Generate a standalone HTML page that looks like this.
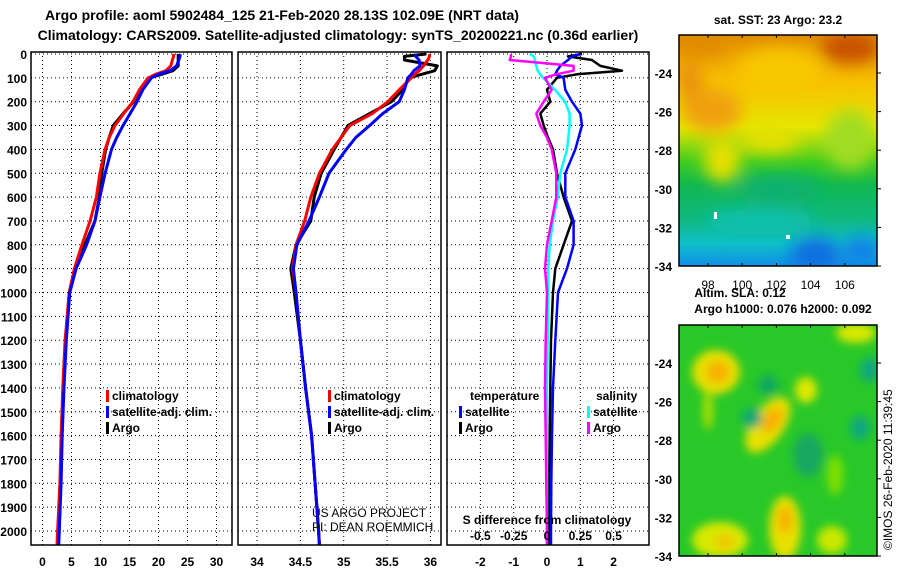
<!DOCTYPE html>
<html><head><meta charset="utf-8"><style>
body{margin:0;background:#fff;width:900px;height:580px;overflow:hidden}
svg text{font-family:"Liberation Sans",Arial,sans-serif;font-weight:bold;fill:#000}
</style></head><body>
<svg id="fig" width="900" height="580" viewBox="0 0 900 580" xmlns="http://www.w3.org/2000/svg">
<defs>
<filter id="blur1" x="-20%" y="-20%" width="140%" height="140%"><feGaussianBlur stdDeviation="8"/></filter>
<filter id="blur2" x="-30%" y="-30%" width="160%" height="160%"><feGaussianBlur stdDeviation="4.5"/></filter>
<clipPath id="m1c"><rect x="679" y="35" width="198" height="231"/></clipPath>
<clipPath id="m2c"><rect x="679" y="325" width="198" height="231"/></clipPath>
<linearGradient id="sstg" x1="0" y1="0" x2="0" y2="1">
<stop offset="0" stop-color="#e08a00"/><stop offset="0.2" stop-color="#f8c000"/><stop offset="0.4" stop-color="#e6e600"/><stop offset="0.55" stop-color="#40cc20"/><stop offset="0.65" stop-color="#10b850"/><stop offset="0.8" stop-color="#10b880"/><stop offset="0.9" stop-color="#10c0c8"/><stop offset="1" stop-color="#1090e8"/>
</linearGradient>
</defs>
<text x="282" y="20" font-size="14" text-anchor="middle">Argo profile: aoml 5902484_125 21-Feb-2020 28.13S 102.09E (NRT data)</text>
<text x="338" y="40" font-size="14" text-anchor="middle">Climatology: CARS2009. Satellite-adjusted climatology: synTS_20200221.nc (0.36d earlier)</text>
<g id="p1"></g>
<g id="p2"></g>
<g id="p3"></g>
<g id="map1" clip-path="url(#m1c)">
<rect x="679" y="35" width="198" height="231" fill="url(#sstg)"/>
<g filter="url(#blur1)">
<ellipse cx="712" cy="110" rx="30" ry="22" fill="#f0a010"/>
<ellipse cx="690" cy="80" rx="12" ry="20" fill="#e89010"/>
<ellipse cx="850" cy="48" rx="30" ry="15" fill="#c85000"/>
<ellipse cx="700" cy="45" rx="25" ry="10" fill="#e08a00"/>
<ellipse cx="780" cy="70" rx="45" ry="22" fill="#f8c800"/>
<ellipse cx="722" cy="160" rx="18" ry="22" fill="#e8e000"/>
<ellipse cx="770" cy="140" rx="30" ry="12" fill="#e8e000"/>
<ellipse cx="850" cy="140" rx="25" ry="30" fill="#a0dc20"/>
<ellipse cx="780" cy="190" rx="40" ry="15" fill="#10b070"/>
<ellipse cx="760" cy="222" rx="55" ry="13" fill="#10c0b0"/>
<ellipse cx="815" cy="255" rx="25" ry="18" fill="#1070e0"/>
<ellipse cx="862" cy="250" rx="18" ry="14" fill="#1080e8"/>
</g>
<rect x="714" y="212" width="3" height="7" fill="#fff"/>
<rect x="786" y="235" width="4" height="4" fill="#fff"/>
</g>
<rect x="679" y="35" width="198" height="231" fill="none" stroke="#000" stroke-width="1.5"/>
<text x="778" y="24" font-size="12" text-anchor="middle">sat. SST: 23 Argo: 23.2</text>
<g id="map2" clip-path="url(#m2c)">
<rect x="679" y="325" width="198" height="231" fill="#28c828"/>
<g filter="url(#blur2)">
<ellipse cx="716" cy="372" rx="24" ry="22" fill="#e8e000"/>
<ellipse cx="718" cy="372" rx="12" ry="11" fill="#f8b000"/>
<ellipse cx="708" cy="410" rx="5" ry="20" fill="#b0e000"/>
<ellipse cx="768" cy="425" rx="16" ry="32" fill="#e8e000" transform="rotate(35 768 425)"/>
<ellipse cx="772" cy="420" rx="9" ry="14" fill="#f8b000" transform="rotate(35 772 420)"/>
<ellipse cx="806" cy="390" rx="11" ry="13" fill="#e0e800"/>
<ellipse cx="785" cy="528" rx="16" ry="32" fill="#e8e000"/>
<ellipse cx="785" cy="520" rx="7" ry="14" fill="#f8b000"/>
<ellipse cx="720" cy="540" rx="28" ry="18" fill="#d8e800"/>
<ellipse cx="725" cy="542" rx="10" ry="8" fill="#f0c800"/>
<ellipse cx="856" cy="333" rx="20" ry="10" fill="#d8e800"/>
<ellipse cx="832" cy="540" rx="15" ry="14" fill="#c8e800"/>
<ellipse cx="835" cy="475" rx="8" ry="20" fill="#80e000"/>
<ellipse cx="752" cy="418" rx="10" ry="10" fill="#10a878"/>
<ellipse cx="768" cy="385" rx="10" ry="10" fill="#10a860"/>
<ellipse cx="808" cy="455" rx="15" ry="22" fill="#18a860"/>
<ellipse cx="870" cy="370" rx="10" ry="12" fill="#10a880"/>
<ellipse cx="860" cy="428" rx="10" ry="12" fill="#10a880"/>
</g>
</g>
<rect x="679" y="325" width="198" height="231" fill="none" stroke="#000" stroke-width="1.5"/>
<text x="740" y="297" font-size="12" text-anchor="middle">Altim. SLA: 0.12</text>
<text x="783" y="313" font-size="12" text-anchor="middle">Argo h1000: 0.076 h2000: 0.092</text>
<text transform="translate(892 550) rotate(-90)" font-size="12" style="font-weight:normal">©IMOS 26-Feb-2020 11:39:45</text>
</svg>
<script>
// ---- data ----
const depths = [0,10,25,50,70,85,100,150,200,250,300,350,400,500,600,700,800,900,1000,1200,1400,1600,1800,2000,2060];
const tempArgo = [23.4,23.4,23.4,23.4,22.5,20.5,18.5,16.8,15.7,13.9,12.2,11.5,10.9,10.2,9.8,9.05,7.3,5.6,4.6,4.0,3.6,3.3,3.1,2.8,2.7];
const tempClim = [22.6,22.6,22.4,22.1,21.3,19.5,18.2,16.7,15.6,14.0,12.5,11.5,10.8,9.9,9.3,8.2,6.8,5.5,4.6,3.9,3.5,3.2,3.0,2.6,2.5];
const tempSat  = [23.7,23.7,23.5,23.1,22.0,20.0,18.8,17.3,16.3,15.1,13.9,12.8,11.9,10.8,9.9,9.05,7.6,5.8,4.7,4.1,3.7,3.4,3.2,2.9,2.8];
const salArgo = [35.95,35.70,35.70,36.08,36.05,35.9,35.76,35.68,35.55,35.30,35.05,34.97,34.89,34.74,34.66,34.62,34.45,34.39,34.43,34.5,34.56,34.63,34.67,34.71,34.72];
const salClim = [35.99,35.99,35.97,35.92,35.87,35.82,35.78,35.64,35.51,35.33,35.07,34.97,34.87,34.72,34.62,34.55,34.45,34.41,34.45,34.5,34.56,34.63,34.67,34.71,34.72];
const salSat  = [35.83,35.83,35.87,35.88,35.81,35.78,35.74,35.70,35.64,35.45,35.30,35.14,35.03,34.83,34.72,34.60,34.46,34.42,34.45,34.5,34.56,34.63,34.67,34.71,34.72];
const tDiffArgo = [1.05,0.63,1.35,1.6,2.25,0.9,0.3,0.0,0.1,-0.2,-0.1,0.03,0.18,0.3,0.5,0.75,0.5,0.25,0.18,0.12,0.1,0.08,0.06,0.05,0.05];
const tDiffSat  = [1.0,0.75,0.63,0.4,0.3,0.25,0.5,0.55,0.75,1.0,1.05,0.95,0.85,0.55,0.55,0.8,0.8,0.6,0.33,0.25,0.18,0.15,0.13,0.12,0.12];
const sDiffSat  = [-0.13,-0.1,-0.09,-0.08,-0.07,-0.05,-0.03,0.06,0.135,0.17,0.17,0.16,0.15,0.1,0.08,0.045,0.02,0.01,0.01,0.005,0,0,0,0,0];
const sDiffArgo = [-0.27,-0.27,-0.28,0.2,0.2,0.07,-0.015,0.035,-0.025,-0.08,-0.05,0,0.035,0.07,0.07,0.035,0,-0.015,0,-0.01,-0.015,-0.01,-0.005,0,0];
const depthTicks = [0,100,200,300,400,500,600,700,800,900,1000,1100,1200,1300,1400,1500,1600,1700,1800,1900,2000];
const tTicks = [0,5,10,15,20,25,30];
const sTicks = [34,34.5,35,35.5,36];
const dTicks = [-2,-1,0,1,2];
const sdLabels = [-0.5,-0.25,0,0.25,0.5];
const latTicks = [-24,-26,-28,-30,-32,-34];
const lonTicks = [98,100,102,104,106];

const NS="http://www.w3.org/2000/svg";
const fig=document.getElementById('fig');
const TOP=52,BOT=545;
function yD(d){return 54+d*0.2385;}
function xT(v){return 42.5+v*5.8;}
function xS(v){return 257+(v-34)*86.7;}
function xD(v){return 547+v*33.3;}
function xSD(v){return 547+v*4*33.3;}
function mk(tag,attrs,parent){const e=document.createElementNS(NS,tag);for(const k in attrs)e.setAttribute(k,attrs[k]);(parent||fig).appendChild(e);return e;}

function frame(g,x0,x1,xs,xticks,fmt,labels){
  depthTicks.forEach(d=>{const l=mk('line',{x1:x0,x2:x1,y1:yD(d),y2:yD(d),stroke:'#000','stroke-dasharray':'1,3','stroke-width':1},g);
    
    });
  xticks.forEach(v=>{const l=mk('line',{x1:xs(v),x2:xs(v),y1:TOP,y2:BOT,stroke:'#000','stroke-dasharray':'1,3','stroke-width':1},g);
    
    
    if(labels){const t=mk('text',{x:xs(v),y:566,'font-size':12,'text-anchor':'middle'},g);t.textContent=fmt(v);
    
    }});
}
function series(g,xs,vals,color,name,w){
  const pts=depths.map((d,i)=>xs(vals[i]).toFixed(1)+','+yD(d).toFixed(1)).join(' ');
  const p=mk('polyline',{points:pts,fill:'none',stroke:color,'stroke-width':w||3,'stroke-linejoin':'round'},g);
  
  
}
function box(g,x0,x1){const r=mk('rect',{x:x0,y:TOP,width:x1-x0,height:BOT-TOP,fill:'none',stroke:'#000','stroke-width':1.5},g);
  
  }
function legend(g,x,y,items){items.forEach((it,i)=>{
  const r=mk('rect',{x:x,y:y+i*16-10,width:3,height:12,fill:it[1]},g);
  
  
  const t=mk('text',{x:x+6,y:y+i*16,'font-size':12},g);t.textContent=it[0];
  
  });}

// panel 1
const p1=document.getElementById('p1');
frame(p1,31,232,xT,tTicks,v=>v,true);
depthTicks.forEach(d=>{const t=mk('text',{x:27,y:yD(d)+5,'font-size':12,'text-anchor':'end'},p1);t.textContent=d;
  
  });
series(p1,xT,tempArgo,'#000','temp-argo-line');
series(p1,xT,tempClim,'#f00','temp-climatology-line');
series(p1,xT,tempSat,'#00f','temp-satellite-line');
box(p1,31,232);
legend(p1,106,400,[['climatology','#f00'],['satellite-adj. clim.','#00f'],['Argo','#000']]);
// panel 2
const p2=document.getElementById('p2');
frame(p2,238,441,xS,sTicks,v=>v,true);
series(p2,xS,salArgo,'#000','sal-argo-line');
series(p2,xS,salClim,'#f00','sal-climatology-line');
series(p2,xS,salSat,'#00f','sal-satellite-line');
box(p2,238,441);
legend(p2,328,400,[['climatology','#f00'],['satellite-adj. clim.','#00f'],['Argo','#000']]);
[['US ARGO PROJECT',517],['PI: DEAN ROEMMICH',531]].forEach(a=>{const t=mk('text',{x:312,y:a[1],'font-size':12,style:'font-weight:normal'},p2);t.textContent=a[0];
  
  });
// panel 3
const p3=document.getElementById('p3');
frame(p3,447,649,xD,dTicks,v=>v,true);
series(p3,xD,tDiffArgo,'#000','tdiff-argo-line',2.5);
series(p3,xD,tDiffSat,'#00f','tdiff-satellite-line',2.5);
series(p3,xSD,sDiffSat,'#0ff','sdiff-satellite-line',2.5);
series(p3,xSD,sDiffArgo,'#f0f','sdiff-argo-line',2.5);
box(p3,447,649);
[['temperature',470,400],['salinity',596,400]].forEach(a=>{const t=mk('text',{x:a[1],y:a[2],'font-size':12},p3);t.textContent=a[0];
  
  });
legend(p3,459,416,[['satellite','#00f'],['Argo','#000']]);
legend(p3,587,416,[['satellite','#0ff'],['Argo','#f0f']]);
const sdt=mk('text',{x:547,y:524,'font-size':12,'text-anchor':'middle'},p3);sdt.textContent='S difference from climatology';


sdLabels.forEach(v=>{const t=mk('text',{x:xSD(v),y:540,'font-size':12,'text-anchor':'middle'},p3);t.textContent=v;
  
  });
// map axes
function latY1(l){return 73+(-24-l)*19.3;}
function latY2(l){return 363+(-24-l)*19.3;}
function lonX(l){return 708+(l-98)*17.1;}
latTicks.forEach(l=>{
  [[latY1,'sst'],[latY2,'sla']].forEach(f=>{
    const y=f[0](l);
    const k=mk('line',{x1:877,x2:881,y1:y,y2:y,stroke:'#000'});
    
    
    const t=mk('text',{x:672,y:y+5,'font-size':12,'text-anchor':'end'});t.textContent=l;
    
    
  });
});
lonTicks.forEach(l=>{
  [35,266,325,556].forEach(y=>{const k=mk('line',{x1:lonX(l),x2:lonX(l),y1:y,y2:y+(y==35||y==325?3:-3),stroke:'#000'});
    
    });
  const t=mk('text',{x:lonX(l),y:289,'font-size':12,'text-anchor':'middle',style:'font-weight:normal'});t.textContent=l;
  
  
});
</script>
</body></html>
